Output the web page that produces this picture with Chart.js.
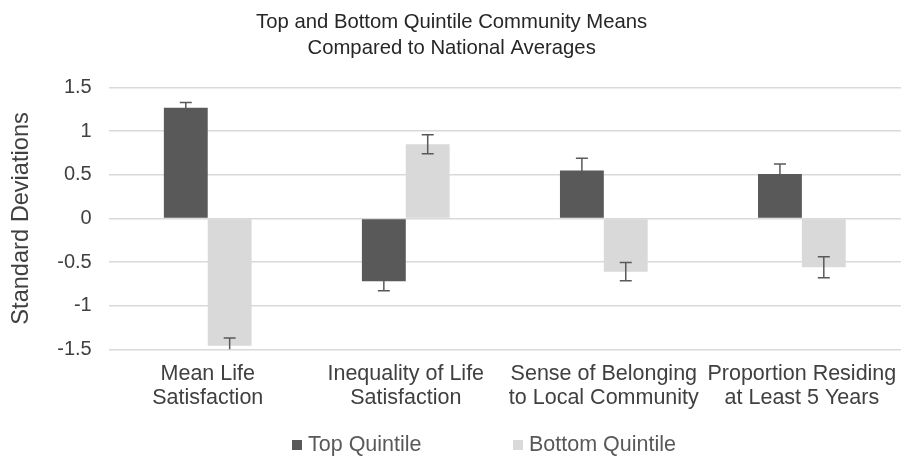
<!DOCTYPE html>
<html>
<head>
<meta charset="utf-8">
<script src="https://cdn.jsdelivr.net/npm/chart.js@4"></script>
<style>
  html, body { margin: 0; padding: 0; background: #fff; overflow: hidden; }
  #wrap { width: 909px; height: 458px; position: relative; }
</style>
</head>
<body>
<div id="wrap"><canvas id="c"></canvas></div>
<script>
// ---- data ----
const categories = [
  ["Mean Life", "Satisfaction"],
  ["Inequality of Life", "Satisfaction"],
  ["Sense of Belonging", "to Local Community"],
  ["Proportion Residing", "at Least 5 Years"]
];
const seriesNames = ["Top Quintile", "Bottom Quintile"];
const topValues = [1.27, -0.72, 0.55, 0.51];
const topErrors = [0.06, 0.11, 0.14, 0.115];
const bottomValues = [-1.46, 0.85, -0.61, -0.56];
const bottomErrors = [0.09, 0.11, 0.105, 0.12];
const yMin = -1.5, yMax = 1.5, yStep = 0.5;
const titleLines = ["Top and Bottom Quintile Community Means", "Compared to National Averages"];
const yTitle = "Standard Deviations";

const FONT = "'Liberation Sans', Arial, sans-serif";
const DARK = "#595959", LIGHT = "#d9d9d9";

const errorBars = {
  id: 'errorBars',
  afterDatasetsDraw(chart) {
    const ctx = chart.ctx, y = chart.scales.y, area = chart.chartArea;
    ctx.save();
    ctx.beginPath();
    ctx.rect(area.left, area.top - 5, area.right - area.left, area.bottom - area.top + 5);
    ctx.clip();
    ctx.strokeStyle = "#595959";
    ctx.lineWidth = 1.5;
    chart.data.datasets.forEach((ds, di) => {
      const meta = chart.getDatasetMeta(di);
      meta.data.forEach((bar, i) => {
        const v = ds.data[i], e = ds.errors[i];
        const x = bar.x;
        const y1 = y.getPixelForValue(v - e), y2 = y.getPixelForValue(v + e);
        ctx.beginPath();
        ctx.moveTo(x, y1); ctx.lineTo(x, y2);
        ctx.moveTo(x - 6, y1); ctx.lineTo(x + 6, y1);
        ctx.moveTo(x - 6, y2); ctx.lineTo(x + 6, y2);
        ctx.stroke();
      });
    });
    ctx.restore();
  }
};

const customLegend = {
  id: 'customLegend',
  afterDraw(chart) {
    const ctx = chart.ctx;
    ctx.save();
    ctx.font = "21.5px " + FONT;
    ctx.textBaseline = "middle";
    ctx.textAlign = "left";
    const yc = 445;
    const starts = [292, 513];
    chart.data.datasets.forEach((ds, i) => {
      const x = starts[i];
      ctx.fillStyle = ds.backgroundColor;
      ctx.fillRect(x, yc - 5, 10, 10);
      ctx.fillStyle = "#595959";
      ctx.fillText(ds.label, x + 16, yc);
    });
    ctx.restore();
  }
};

new Chart(document.getElementById('c'), {
  type: 'bar',
  data: {
    labels: categories,
    datasets: [
      { label: seriesNames[0], data: topValues, errors: topErrors, backgroundColor: DARK, borderWidth: 0 },
      { label: seriesNames[1], data: bottomValues, errors: bottomErrors, backgroundColor: LIGHT, borderWidth: 0 }
    ]
  },
  options: {
    responsive: true,
    maintainAspectRatio: false,
    animation: false,
    devicePixelRatio: 1,
    categoryPercentage: 0.443,
    barPercentage: 1,
    layout: { padding: { left: 0, right: 5.7, top: 0, bottom: 40 } },
    plugins: {
      legend: { display: false },
      tooltip: { enabled: false },
      title: {
        display: true,
        text: titleLines,
        color: "#262626",
        font: { family: FONT, size: 20.3, weight: 'normal', lineHeight: 1.27 },
        padding: { top: 10, bottom: 26 }
      }
    },
    scales: {
      x: {
        grid: { display: false, drawTicks: false },
        border: { display: false },
        ticks: {
          color: "#404040",
          font: { family: FONT, size: 21.5, lineHeight: 1.15 },
          padding: 12,
          maxRotation: 0, autoSkip: false
        },
        afterFit(scale) { scale.height = 68.7; }
      },
      y: {
        min: yMin, max: yMax,
        grid: { color: "#d9d9d9", lineWidth: 1.5, drawTicks: false },
        border: { display: false },
        ticks: {
          stepSize: yStep,
          color: "#404040",
          font: { family: FONT, size: 20 },
          padding: 17,
          callback: v => String(v)
        },
        title: {
          display: true, text: yTitle, color: "#404040",
          font: { family: FONT, size: 23.6 },
          padding: { top: 7, bottom: 0 }
        },
        afterFit(scale) { scale.width = 108.7; }
      }
    }
  },
  plugins: [errorBars, customLegend]
});
</script>
</body>
</html>
